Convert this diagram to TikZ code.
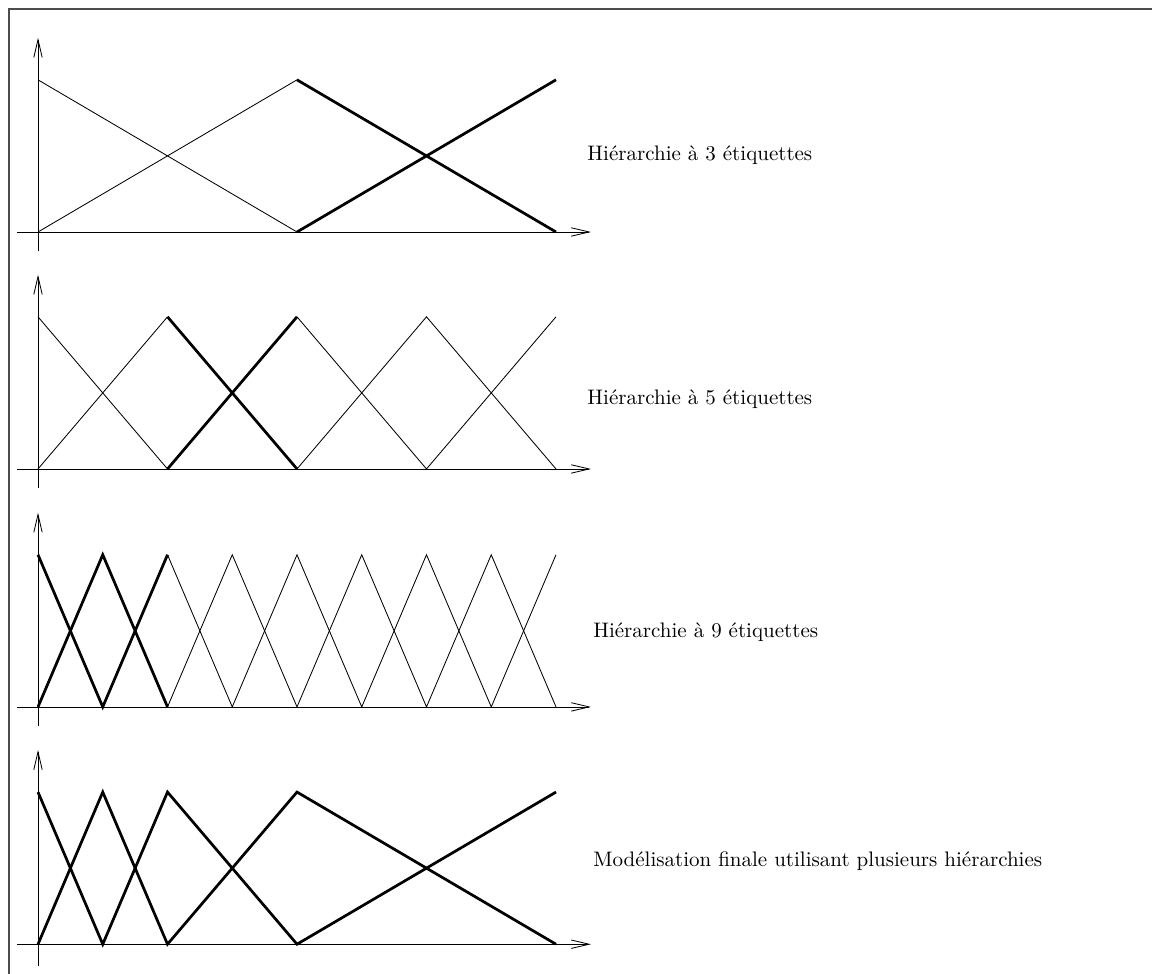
\documentclass[tikz,border=0pt]{standalone}
\usepackage{fontspec}
\usetikzlibrary{arrows.meta}

\tikzset{
  axe/.style={line width=0.4pt, -{Straight Barb[length=8.5pt,width=4pt]}},
  fine/.style={line width=0.4pt},
  grasse/.style={line width=1.3pt, line join=miter},
  etiq/.style={anchor=west, inner sep=0pt}
}

\begin{document}
\begin{tikzpicture}[x=1.0837cm, y=1.0837cm]
    \useasboundingbox (-0.587,-11.459) rectangle (17.205,3.583);
    % cadre
    \draw[line width=0.6pt, black!70] (-0.448,-11.459) -- (-0.448,3.444) -- (17.205,3.444);

    % Hierarchie a 3 etiquettes
    \begin{scope}
      \draw[axe] (-0.32,0) -- (8.54,0);
      \draw[axe] (0,-0.3) -- (0,3);
      \draw[fine] (0,2.35) -- (4,0);
      \draw[fine] (0,0) -- (4,2.35);
      \draw[grasse] (4,2.35) -- (8,0);
      \draw[grasse] (4,0) -- (8,2.35);
      \node[etiq] (lab3) at (8.48,1.19) {Hiérarchie à 3 étiquettes};
    \end{scope}

    % Hierarchie a 5 etiquettes
    \begin{scope}[yshift=-3.66*1.0837cm]
      \draw[axe] (-0.32,0) -- (8.54,0);
      \draw[axe] (0,-0.3) -- (0,3);
      \draw[fine] (0,2.35) -- (2,0);
      \draw[fine] (0,0) -- (2,2.35);
      \draw[grasse] (2,2.35) -- (4,0);
      \draw[grasse] (2,0) -- (4,2.35);
      \draw[fine] (4,2.35) -- (6,0) -- (8,2.35);
      \draw[fine] (4,0) -- (6,2.35) -- (8,0);
      \node[etiq] (lab5) at (8.48,1.08) {Hiérarchie à 5 étiquettes};
    \end{scope}

    % Hierarchie a 9 etiquettes
    \begin{scope}[yshift=-7.335*1.0837cm]
      \draw[axe] (-0.32,0) -- (8.54,0);
      \draw[axe] (0,-0.3) -- (0,3);
      \draw[grasse] (0,2.35) -- (1,0) -- (2,2.35);
      \draw[grasse] (0,0) -- (1,2.35) -- (2,0);
      \draw[fine] (2,2.35) -- (3,0) -- (4,2.35) -- (5,0) -- (6,2.35) -- (7,0) -- (8,2.35);
      \draw[fine] (2,0) -- (3,2.35) -- (4,0) -- (5,2.35) -- (6,0) -- (7,2.35) -- (8,0);
      \node[etiq] (lab9) at (8.57,1.16) {Hiérarchie à 9 étiquettes};
    \end{scope}

    % Modelisation finale
    \begin{scope}[yshift=-11*1.0837cm]
      \draw[axe] (-0.32,0) -- (8.54,0);
      \draw[axe] (0,-0.34) -- (0,3);
      \draw[grasse] (0,2.35) -- (1,0) -- (2,2.35) -- (4,0) -- (8,2.35);
      \draw[grasse] (0,0) -- (1,2.35) -- (2,0) -- (4,2.35) -- (8,0);
      \node[etiq] (labfin) at (8.57,1.28) {Modélisation finale utilisant plusieurs hiérarchies};
    \end{scope}
\end{tikzpicture}
\end{document}
